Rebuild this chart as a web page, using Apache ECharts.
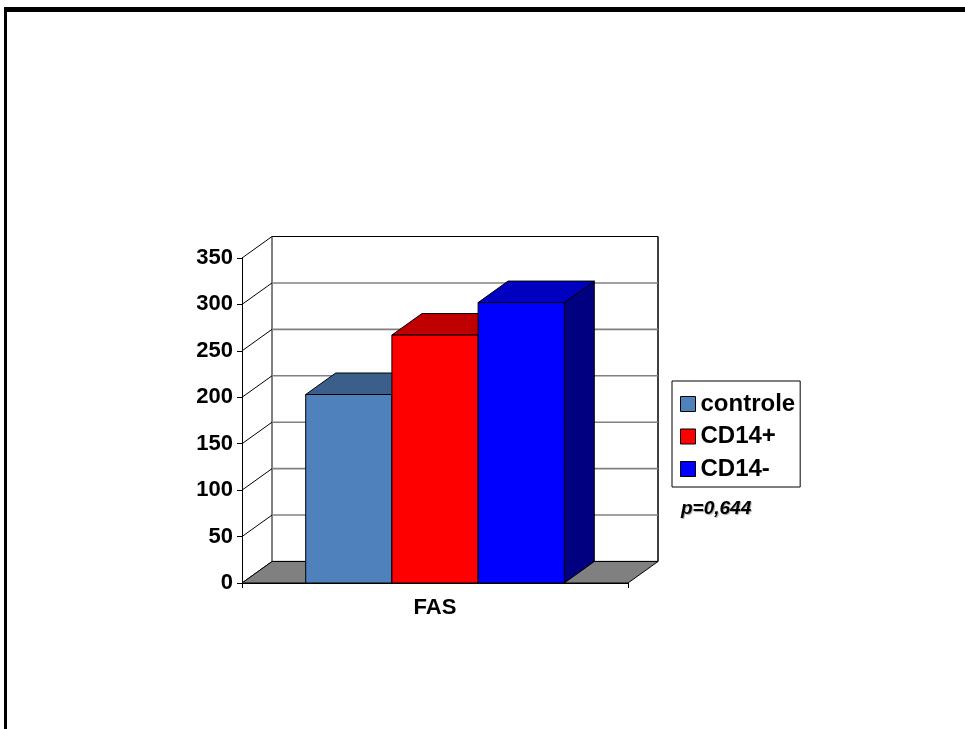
<!DOCTYPE html>
<html>
<head>
<meta charset="utf-8">
<script src="https://cdn.jsdelivr.net/npm/echarts@6/dist/echarts.min.js"></script>
<style>
  html, body { margin: 0; padding: 0; background: #fff; }
  #chart { width: 965px; height: 729px; }
</style>
</head>
<body>
<div id="chart"></div>
<script>
// FAS expression per group
const categories = ['FAS'];
const seriesNames = ['controle', 'CD14+', 'CD14-'];
const seriesValues = [203, 267, 302];
const yTicks = [0, 50, 100, 150, 200, 250, 300, 350];
const pValueText = 'p=0,644';

// face colours: front, top, side
const faceColors = [
  { front: '#4F81BD', top: '#3B5F8A', side: '#2A4566' },
  { front: '#FF0000', top: '#C00000', side: '#800000' },
  { front: '#0000FF', top: '#0000C0', side: '#000080' }
];

const FONT = '"Liberation Sans", Arial, sans-serif';
const DX = 30, DY = -21.5;      // depth offset of the 3D box
const BAR_FRAC = 0.2233;         // bar width as a share of the category band

const chart = echarts.init(document.getElementById('chart'));

// back wall, side wall and floor
function renderWalls(params, api) {
  const v = api.value(0);
  const band = api.size([1, 0])[0];
  const c = api.coord([0, v]);
  const xl = c[0] - band / 2, xr = c[0] + band / 2;
  const y = c[1];
  const children = [];
  const isTop = v === yTicks[yTicks.length - 1];
  // diagonal on the side wall
  children.push({ type: 'line', shape: { x1: xl, y1: y, x2: xl + DX, y2: y + DY },
    style: { stroke: '#000', lineWidth: 1 } });
  // gridline on the back wall
  children.push({ type: 'line', shape: { x1: xl + DX, y1: y + DY, x2: xr + DX, y2: y + DY },
    style: { stroke: isTop ? '#000' : '#808080', lineWidth: isTop ? 1 : 1.6 } });
  if (params.dataIndex === 0) {
    const yt = api.coord([0, yTicks[yTicks.length - 1]])[1];
    children.push({ type: 'line', shape: { x1: xl + DX, y1: yt + DY, x2: xl + DX, y2: y + DY },
      style: { stroke: '#000', lineWidth: 1 } });
    children.push({ type: 'line', shape: { x1: xr + DX, y1: yt + DY, x2: xr + DX, y2: y + DY },
      style: { stroke: '#000', lineWidth: 1.5 } });
    children.push({ type: 'polygon', shape: { points: [[xl, y], [xr, y], [xr + DX, y + DY], [xl + DX, y + DY]] },
      style: { fill: '#808080', stroke: '#000', lineWidth: 1 } });
  }
  return { type: 'group', children: children };
}

function renderBar(params, api) {
  const i = seriesNames.indexOf(params.seriesName);
  const col = faceColors[i];
  const base = api.coord([api.value(0), 0]);
  const top = api.coord([api.value(0), api.value(1)]);
  const band = api.size([1, 0])[0];
  const bw = band * BAR_FRAC;
  const x0 = base[0] - 1.5 * bw + i * bw, x1 = x0 + bw;
  const yb = base[1], yt = top[1];
  const line = { stroke: '#000', lineWidth: 1, lineJoin: 'round' };
  return {
    type: 'group',
    children: [
      { type: 'polygon', shape: { points: [[x1, yt], [x1 + DX, yt + DY], [x1 + DX, yb + DY], [x1, yb]] },
        style: Object.assign({ fill: col.side }, line) },
      { type: 'polygon', shape: { points: [[x0, yt], [x1, yt], [x1 + DX, yt + DY], [x0 + DX, yt + DY]] },
        style: Object.assign({ fill: col.top }, line) },
      { type: 'rect', shape: { x: x0, y: yt, width: bw, height: yb - yt },
        style: Object.assign({ fill: col.front }, line) }
    ]
  };
}

const series = [{
  type: 'custom',
  name: 'walls',
  renderItem: renderWalls,
  data: yTicks.map(v => [v]),
  encode: { y: 0 },
  clip: false,
  silent: true,
  z: 1
}];
seriesNames.forEach((name, i) => {
  series.push({
    type: 'custom',
    name: name,
    renderItem: renderBar,
    data: [[0, seriesValues[i]]],
    encode: { x: 0, y: 1 },
    itemStyle: { color: faceColors[i].front },
    clip: false,
    z: 3 + i
  });
});

chart.setOption({
  animation: false,
  backgroundColor: '#fff',
  grid: { left: 242, top: 258, width: 386, height: 325, containLabel: false },
  xAxis: {
    type: 'category',
    data: categories,
    axisLine: { show: true, lineStyle: { color: '#000', width: 1 } },
    axisTick: { show: true, length: 5, lineStyle: { color: '#000' } },
    axisLabel: { margin: 14, color: '#000', fontSize: 22, fontWeight: 'bold', fontFamily: FONT },
    splitLine: { show: false }
  },
  yAxis: {
    type: 'value',
    min: 0, max: 350, interval: 50,
    axisLine: { show: true, lineStyle: { color: '#000', width: 1 } },
    axisTick: { show: true, length: 5, lineStyle: { color: '#000' } },
    axisLabel: { margin: 9, color: '#000', fontSize: 22, fontWeight: 'bold', fontFamily: FONT },
    splitLine: { show: false }
  },
  legend: {
    data: seriesNames,
    orient: 'vertical',
    left: 672, top: 381,
    padding: [11, 5, 6, 8],
    itemWidth: 15, itemHeight: 15, itemGap: 8.5,
    borderColor: '#000', borderWidth: 1,
    icon: 'rect',
    itemStyle: { borderColor: '#000', borderWidth: 1 },
    textStyle: { color: '#000', fontSize: 24, fontWeight: 'bold', fontFamily: FONT, lineHeight: 24 }
  },
  graphic: [
    { type: 'rect', shape: { x: 4, y: 7, width: 961, height: 5 }, style: { fill: '#000' } },
    { type: 'rect', shape: { x: 4, y: 7, width: 3, height: 722 }, style: { fill: '#000' } },
    { type: 'text', left: 681, top: 499,
      style: { text: pValueText, fill: '#000', font: 'italic bold 19px ' + FONT,
        textShadowColor: 'rgba(0,0,0,0.35)', textShadowOffsetX: 1, textShadowOffsetY: 1, textShadowBlur: 1 } }
  ],
  series: series
});
</script>
</body>
</html>
